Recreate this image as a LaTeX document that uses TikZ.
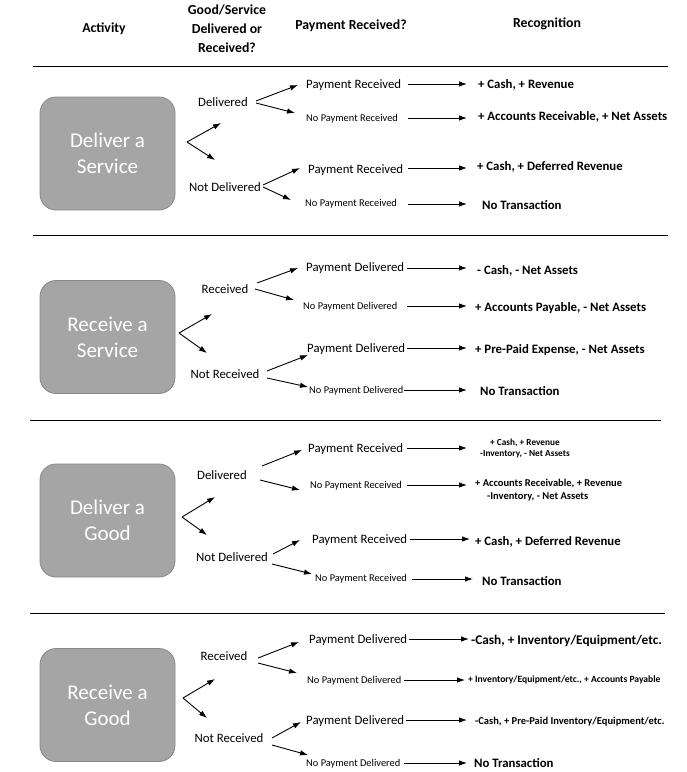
\documentclass[tikz,border=0pt]{standalone}
\usepackage{fontspec}
\setmainfont{Carlito}
\usetikzlibrary{arrows.meta}
\definecolor{boxfill}{HTML}{A5A5A5}
\definecolor{boxline}{HTML}{888888}
\begin{document}
\begin{tikzpicture}[x=1pt,y=-1pt,
  hdr/.style={font=\bfseries\fontsize{13.8}{18.8}\selectfont,align=center,inner sep=0},
  actbox/.style={draw=boxline,line width=0.8pt,fill=boxfill,rounded corners=16pt,minimum width=135pt,minimum height=113pt,text=white,font=\fontsize{21}{26}\selectfont,align=center,inner sep=0},
  opt/.style={font=\fontsize{12.8}{15}\selectfont,inner sep=0},
  pay/.style={font=\fontsize{12.8}{15}\selectfont,inner sep=0,anchor=west,yshift=-0.8pt},
  paysm/.style={font=\fontsize{10.4}{12}\selectfont,inner sep=0,anchor=west,yshift=-0.8pt},
  rec/.style={font=\bfseries\fontsize{12.8}{15}\selectfont,inner sep=0,anchor=west,yshift=-1.5pt},
  recsm/.style={font=\bfseries\fontsize{9.3}{11.5}\selectfont,inner sep=0},
  arr/.style={-{Latex[length=8pt,width=5.5pt]},line width=0.9pt},
  sep/.style={line width=1pt}]
\useasboundingbox (0,0) rectangle (687,772);
\fill[white] (0,0) rectangle (687,772);

% header
\node[hdr] (hact) at (104,29) {Activity};
\node[hdr] (hgood) at (227,29) {Good/Service\\Delivered or\\Received?};
\node[hdr] (hpay) at (351,26) {Payment Received?};
\node[hdr] (hrec) at (547,24) {Recognition};

% separators
\coordinate (l1a) at (33,66);  \coordinate (l1b) at (668,66);
\coordinate (l2a) at (33,235); \coordinate (l2b) at (668,235);
\coordinate (l3a) at (30,420); \coordinate (l3b) at (661,420);
\coordinate (l4a) at (30,613); \coordinate (l4b) at (665,613);
\draw[sep] (l1a) -- (l1b);
\draw[sep] (l2a) -- (l2b);
\draw[sep] (l3a) -- (l3b);
\draw[sep] (l4a) -- (l4b);

% ===== Section 1: Deliver a Service =====
\node[actbox] (box1) at (107.5,153.5) {Deliver a\\Service};
\coordinate (f1) at (187,142); \coordinate (f1u) at (221,123); \coordinate (f1d) at (215,160);
\draw[arr] (f1) -- (f1u);
\draw[arr] (f1) -- (f1d);
\node[opt] (o11) at (223,102) {Delivered};
\node[opt] (o12) at (225,187) {Not Delivered};
\node[pay]   (p11) at (306,84)  {Payment Received};
\node[paysm] (p12) at (306,118) {No Payment Received};
\node[pay]   (p13) at (308,169) {Payment Received};
\node[paysm] (p14) at (305,203) {No Payment Received};
\node[rec] (r11) at (478,83)  {+ Cash, + Revenue};
\node[rec] (r12) at (478,115) {+ Accounts Receivable, + Net Assets};
\node[rec] (r13) at (477,165) {+ Cash, + Deferred Revenue};
\node[rec] (r14) at (482,204) {No Transaction};
\coordinate (a11s) at (256,101); \coordinate (a11e) at (298,85);
\coordinate (a12s) at (256,103); \coordinate (a12e) at (295,113);
\coordinate (a13s) at (263,185); \coordinate (a13e) at (300,168);
\coordinate (a14s) at (263,187); \coordinate (a14e) at (291,200);
\draw[arr] (a11s) -- (a11e);
\draw[arr] (a12s) -- (a12e);
\draw[arr] (a13s) -- (a13e);
\draw[arr] (a14s) -- (a14e);
\coordinate (h11s) at (408,84);  \coordinate (h11e) at (467,84);
\coordinate (h12s) at (408,118); \coordinate (h12e) at (467,118);
\coordinate (h13s) at (408,168); \coordinate (h13e) at (467,168);
\coordinate (h14s) at (408,204); \coordinate (h14e) at (467,204);
\draw[arr] (h11s) -- (h11e);
\draw[arr] (h12s) -- (h12e);
\draw[arr] (h13s) -- (h13e);
\draw[arr] (h14s) -- (h14e);

% ===== Section 2: Receive a Service =====
\node[actbox] (box2) at (107.5,337) {Receive a\\Service};
\coordinate (f2) at (179,333); \coordinate (f2u) at (212,314); \coordinate (f2d) at (207,353);
\draw[arr] (f2) -- (f2u);
\draw[arr] (f2) -- (f2d);
\node[opt] (o21) at (225,289) {Received};
\node[opt] (o22) at (225,374) {Not Received};
\node[pay]   (p21) at (306,267) {Payment Delivered};
\node[paysm] (p22) at (303,306) {No Payment Delivered};
\node[pay]   (p23) at (307,348) {Payment Delivered};
\node[paysm] (p24) at (309,390) {No Payment Delivered};
\node[rec] (r21) at (477,269) {- Cash, - Net Assets};
\node[rec] (r22) at (475,307) {+ Accounts Payable, - Net Assets};
\node[rec] (r23) at (475,349) {+ Pre-Paid Expense, - Net Assets};
\node[rec] (r24) at (480,390) {No Transaction};
\coordinate (a21s) at (257,283); \coordinate (a21e) at (298,268);
\coordinate (a22s) at (255,289); \coordinate (a22e) at (294,300);
\coordinate (a23s) at (267,371); \coordinate (a23e) at (308,355);
\coordinate (a24s) at (267,378); \coordinate (a24e) at (308,387);
\draw[arr] (a21s) -- (a21e);
\draw[arr] (a22s) -- (a22e);
\draw[arr] (a23s) -- (a23e);
\draw[arr] (a24s) -- (a24e);
\coordinate (h21s) at (407,268); \coordinate (h21e) at (467,268);
\coordinate (h22s) at (407,306); \coordinate (h22e) at (467,306);
\coordinate (h23s) at (407,348); \coordinate (h23e) at (467,348);
\coordinate (h24s) at (404,390); \coordinate (h24e) at (467,390);
\draw[arr] (h21s) -- (h21e);
\draw[arr] (h22s) -- (h22e);
\draw[arr] (h23s) -- (h23e);
\draw[arr] (h24s) -- (h24e);

% ===== Section 3: Deliver a Good =====
\node[actbox] (box3) at (107.5,520.5) {Deliver a\\Good};
\coordinate (f3) at (182,517); \coordinate (f3u) at (215,497); \coordinate (f3d) at (207,535);
\draw[arr] (f3) -- (f3u);
\draw[arr] (f3) -- (f3d);
\node[opt] (o31) at (222,475) {Delivered};
\node[opt] (o32) at (232,557) {Not Delivered};
\node[pay]   (p31) at (308,448) {Payment Received};
\node[paysm] (p32) at (310,485) {No Payment Received};
\node[pay]   (p33) at (312,539) {Payment Received};
\node[paysm] (p34) at (315,578) {No Payment Received};
\node[recsm,align=center] (r31) at (525,448.5) {+ Cash, + Revenue\\-Inventory, - Net Assets};
\node[recsm,font=\bfseries\fontsize{10.5}{13}\selectfont,align=left,anchor=north west] (r32) at (475,479) {+ Accounts Receivable, + Revenue\\\hspace*{12pt}-Inventory, - Net Assets};
\node[rec] (r33) at (475,540) {+ Cash, + Deferred Revenue};
\node[rec] (r34) at (482,580) {No Transaction};
\coordinate (a31s) at (262,466); \coordinate (a31e) at (302,450);
\coordinate (a32s) at (260,480); \coordinate (a32e) at (300,490);
\coordinate (a33s) at (273,554); \coordinate (a33e) at (300,540);
\coordinate (a34s) at (272,564); \coordinate (a34e) at (312,574);
\draw[arr] (a31s) -- (a31e);
\draw[arr] (a32s) -- (a32e);
\draw[arr] (a33s) -- (a33e);
\draw[arr] (a34s) -- (a34e);
\coordinate (h31s) at (407,448); \coordinate (h31e) at (467,448);
\coordinate (h32s) at (407,485); \coordinate (h32e) at (467,485);
\coordinate (h33s) at (410,539); \coordinate (h33e) at (470,539);
\coordinate (h34s) at (412,579); \coordinate (h34e) at (473,579);
\draw[arr] (h31s) -- (h31e);
\draw[arr] (h32s) -- (h32e);
\draw[arr] (h33s) -- (h33e);
\draw[arr] (h34s) -- (h34e);

% ===== Section 4: Receive a Good =====
\node[actbox] (box4) at (107.5,705) {Receive a\\Good};
\coordinate (f4) at (183,698); \coordinate (f4u) at (215,679); \coordinate (f4d) at (207,718);
\draw[arr] (f4) -- (f4u);
\draw[arr] (f4) -- (f4d);
\node[opt] (o41) at (224,656) {Received};
\node[opt] (o42) at (229,738) {Not Received};
\node[pay]   (p41) at (309,639) {Payment Delivered};
\node[paysm] (p42) at (307,680) {No Payment Delivered};
\node[pay]   (p43) at (306,720) {Payment Delivered};
\node[paysm] (p44) at (306,763) {No Payment Delivered};
\node[rec,font=\bfseries\fontsize{13.3}{15}\selectfont] (r41) at (471,639) {-Cash, + Inventory/Equipment/etc.};
\node[recsm,anchor=west,font=\bfseries\fontsize{9.6}{11}\selectfont,yshift=-0.8pt] (r42) at (468,679) {+ Inventory/Equipment/etc., + Accounts Payable};
\node[recsm,anchor=west,font=\bfseries\fontsize{10.5}{12}\selectfont,yshift=-0.8pt] (r43) at (475,721) {-Cash, + Pre-Paid Inventory/Equipment/etc.};
\node[rec] (r44) at (474,762) {No Transaction};
\coordinate (a41s) at (258,658); \coordinate (a41e) at (299,642);
\coordinate (a42s) at (258,663); \coordinate (a42e) at (297,673);
\coordinate (a43s) at (272,738); \coordinate (a43e) at (301,722);
\coordinate (a44s) at (272,745); \coordinate (a44e) at (308,755);
\draw[arr] (a41s) -- (a41e);
\draw[arr] (a42s) -- (a42e);
\draw[arr] (a43s) -- (a43e);
\draw[arr] (a44s) -- (a44e);
\coordinate (h41s) at (409,639); \coordinate (h41e) at (469,639);
\coordinate (h42s) at (404,680); \coordinate (h42e) at (465,680);
\coordinate (h43s) at (406,720); \coordinate (h43e) at (467,720);
\coordinate (h44s) at (404,763); \coordinate (h44e) at (467,763);
\draw[arr] (h41s) -- (h41e);
\draw[arr] (h42s) -- (h42e);
\draw[arr] (h43s) -- (h43e);
\draw[arr] (h44s) -- (h44e);
\end{tikzpicture}
\end{document}
